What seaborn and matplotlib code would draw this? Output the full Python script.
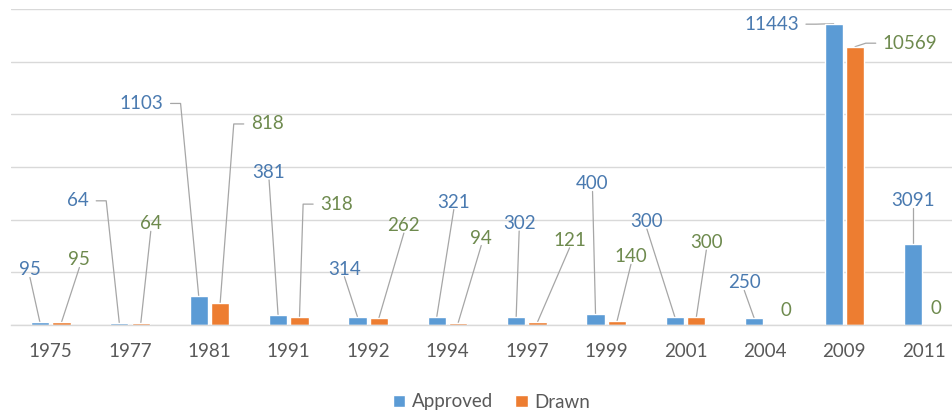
import matplotlib
matplotlib.use("Agg")
import matplotlib.pyplot as plt
from matplotlib.lines import Line2D
from matplotlib.transforms import IdentityTransform
import seaborn as sns
import pandas as pd

# ---------------- data ----------------
years = ["1975", "1977", "1981", "1991", "1992", "1994", "1997", "1999", "2001", "2004", "2009", "2011"]
approved = [95, 64, 1103, 381, 314, 321, 302, 400, 300, 250, 11443, 3091]
drawn = [95, 64, 818, 318, 262, 94, 121, 140, 300, 0, 10569, 0]
series = ["Approved", "Drawn"]

# ---------------- label layout (pixel offsets of label centre from bar top) ----------------
# (dx, dy, leader) leader: 'b' = from bottom of label, 'r' = elbow from right side,
# 'l' = elbow from left side, 'n' = none
approved_lbl = [(-10, 54, 'b'), (-41, 124, 'r'), (-57, 194, 'r'), (-9, 144, 'b'),
                (-13, 49, 'b'), (17, 116, 'b'), (3, 95, 'b'), (-3, 132, 'b'),
                (-28, 97, 'b'), (-10, 37, 'b'), (-62, 1, 'r'), (0, 45, 'b')]
drawn_lbl = [(18, 64, 'b'), (10, 101, 'b'), (47, 181, 'l'), (37, 114, 'l'),
             (25, 94, 'b'), (23, 86, 'b'), (32, 83, 'b'), (14, 66, 'b'),
             (10, 76, 'b'), (10, 16, 'n'), (55, 5, 'l'), (2, 18, 'n')]

BLUE = "#5B9BD5"
ORANGE = "#ED7D31"
BLUE_TXT = "#4A7AB0"
GREEN_TXT = "#6E8A4E"
GRID = "#D9D9D9"
TICK_TXT = "#595959"
LEADER = "#A6A6A6"

df = pd.DataFrame({
    "Year": years * 2,
    "Value": approved + drawn,
    "Series": [series[0]] * len(years) + [series[1]] * len(years),
})

sns.set_theme(style="white")
plt.rcParams["font.family"] = ["Lato", "DejaVu Sans"]

fig = plt.figure(figsize=(9.53, 4.12), dpi=100)
ax = fig.add_axes([11.0 / 953, 87 / 412, 952.4 / 953, 316 / 412])

sns.barplot(data=df, x="Year", y="Value", hue="Series", order=years,
            hue_order=series, palette=[BLUE, ORANGE], width=0.54, gap=0.15,
            saturation=1, ax=ax, legend=True)

ax.set_ylim(0, 12000)
ax.set_xlim(-0.5, len(years) - 0.5)
ax.set_yticks(range(0, 12001, 2000))
ax.set_yticklabels([])
ax.grid(axis="y", color=GRID, linewidth=1)
ax.grid(axis="x", visible=False)
ax.set_axisbelow(True)
for s in ["left", "right", "top"]:
    ax.spines[s].set_visible(False)
ax.spines["bottom"].set_color(GRID)
ax.spines["bottom"].set_linewidth(1)
ax.tick_params(axis="x", length=0, pad=13, labelsize=13.5, labelcolor=TICK_TXT)
ax.tick_params(axis="y", length=0)
ax.set_xlabel("")
ax.set_ylabel("")

# legend at bottom centre
handles, labels = ax.get_legend_handles_labels()
ax.get_legend().remove()
fig.legend(handles, labels, loc="center", bbox_to_anchor=(491.5 / 953, 1 - 402 / 412),
           ncol=2, frameon=False, fontsize=13.5, handlelength=0.65, handleheight=0.65,
           handletextpad=0.35, columnspacing=1.2, labelcolor=TICK_TXT)

# data labels
annots = []
for cont, vals, lay, col in [(ax.containers[0], approved, approved_lbl, BLUE_TXT),
                             (ax.containers[1], drawn, drawn_lbl, GREEN_TXT)]:
    for patch, v, (dx, dy, mode) in zip(cont.patches, vals, lay):
        bx = patch.get_x() + patch.get_width() / 2
        by = patch.get_height()
        t = ax.annotate(str(v), xy=(bx, by), xycoords="data", xytext=(dx, dy),
                        textcoords="offset pixels", ha="center", va="center_baseline",
                        fontsize=13.5, color=col, annotation_clip=False)
        annots.append((t, bx, by, mode))

fig.canvas.draw()
renderer = fig.canvas.get_renderer()
for t, bx, by, mode in annots:
    if mode == "n":
        continue
    bb = t.get_window_extent(renderer)
    px, py = ax.transData.transform((bx, by))
    cy = (bb.y0 + bb.y1) / 2
    if mode == "b":
        xs = [(bb.x0 + bb.x1) / 2, px]
        ys = [bb.y0 + 1, py]
    elif mode == "r":
        xs = [bb.x1 + 7, bb.x1 + 17, px]
        ys = [cy, cy, py]
    else:
        xs = [bb.x0 - 7, bb.x0 - 17, px]
        ys = [cy, cy, py]
    ln = Line2D(xs, ys, transform=IdentityTransform(), color=LEADER, linewidth=0.9, zorder=0.8)
    ax.add_line(ln)

fig.savefig("out.png", dpi=100)
